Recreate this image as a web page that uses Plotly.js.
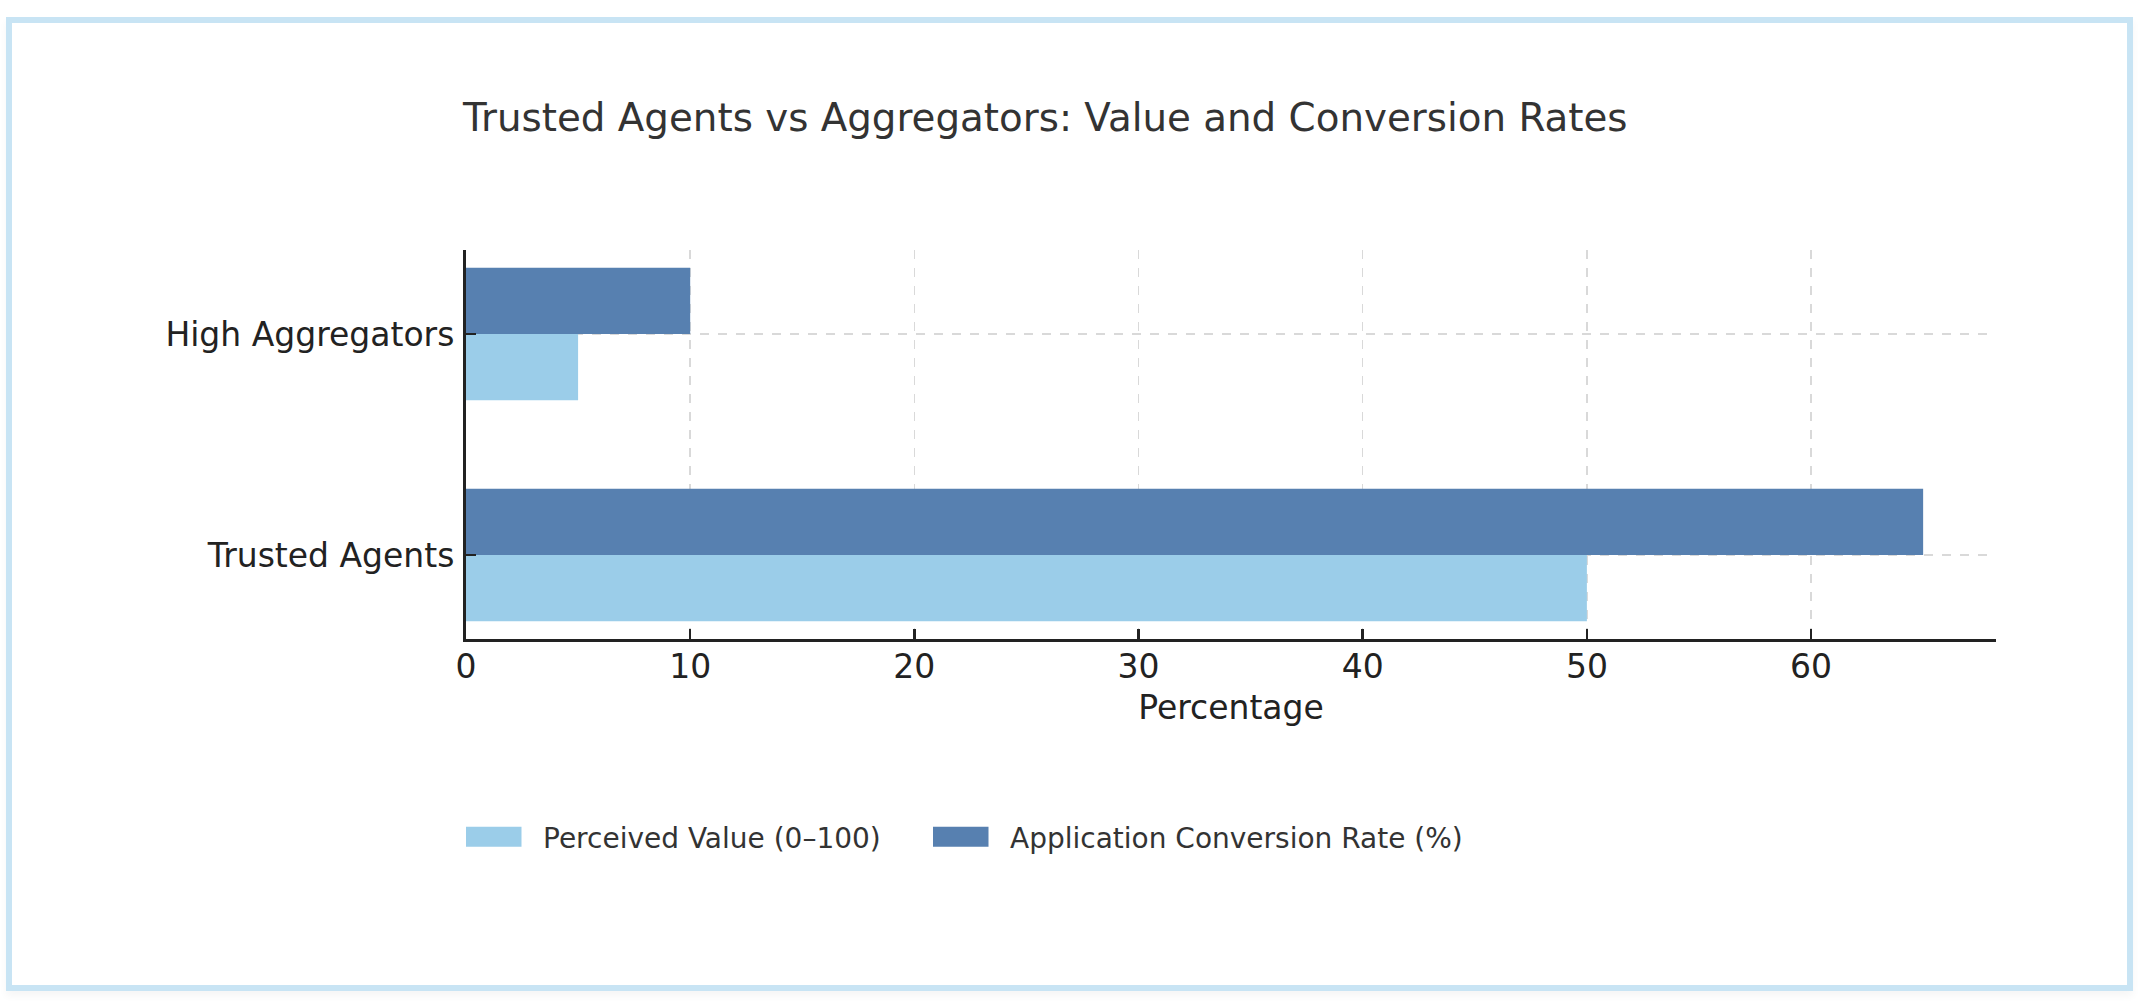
<!DOCTYPE html>
<html>
<head>
<meta charset="utf-8">
<script src="https://cdn.plot.ly/plotly-3.0.1.min.js"></script>
<style>
  html, body { margin: 0; padding: 0; background: #ffffff; }
  #chart { position: absolute; left: 0; top: 0; width: 2152px; height: 1006px; }
  #frame { position: absolute; left: 6px; top: 17px; width: 2127px; height: 974px;
           box-sizing: border-box; border: 6.5px solid #c8e4f4; pointer-events: none;
           box-shadow: 0 5px 8px rgba(0,0,0,0.04); z-index: 10; }
</style>
</head>
<body>
<div id="chart"></div>
<div id="frame"></div>
<script>
const categories = ["Trusted Agents", "High Aggregators"];
const perceivedValue = [50, 5];
const conversionRate = [65, 10];
const seriesNames = ["Perceived Value (0\u2013100)", "Application Conversion Rate (%)"];
const xTicks = [0, 10, 20, 30, 40, 50, 60];

const FONT = "DejaVu Sans, Verdana, sans-serif";

const traces = [
  { type: "bar", orientation: "h", name: seriesNames[0], y: categories, x: perceivedValue,
    marker: { color: "#9bcde9", line: { width: 0 } }, hoverinfo: "x+name", legend: "legend" },
  { type: "bar", orientation: "h", name: seriesNames[1], y: categories, x: conversionRate,
    marker: { color: "#5780b0", line: { width: 0 } }, hoverinfo: "x+name", legend: "legend2" }
];

const plotW = 2152 - 466 - 156;
const legendCommon = {
  orientation: "h", xanchor: "left", y: (639 - 837) / 389, yanchor: "middle",
  font: { size: 28, color: "#333333" }, bgcolor: "rgba(0,0,0,0)",
  itemwidth: 67, itemclick: false, itemdoubleclick: false
};

const layout = {
  width: 2152, height: 1006,
  paper_bgcolor: "#ffffff", plot_bgcolor: "#ffffff",
  font: { family: FONT, color: "#222222", size: 33 },
  margin: { l: 466, r: 156, t: 250, b: 367, pad: 0 },
  barmode: "group", bargap: 0.4, bargroupgap: 0,
  title: { text: "Trusted Agents vs Aggregators: Value and Conversion Rates",
           font: { family: FONT, size: 38.8, color: "#333333" },
           xref: "container", x: 463 / 2152, xanchor: "left",
           yref: "container", y: 1 - 117 / 1006, yanchor: "middle" },
  xaxis: {
    range: [0, 68.25], tickvals: xTicks, ticktext: xTicks.map(String),
    showline: true, linecolor: "#222222", linewidth: 3,
    ticks: "inside", ticklen: 10, tickwidth: 2.5, tickcolor: "#222222",
    showgrid: true, gridcolor: "#d9d9d9", gridwidth: 1.5, griddash: "dash",
    zeroline: false, tickfont: { size: 33, color: "#222222" }, ticklabelstandoff: -4,
    title: { text: "Percentage", font: { size: 33, color: "#222222" }, standoff: 12 }
  },
  yaxis: {
    type: "category", range: [-0.38, 1.38],
    showline: true, linecolor: "#222222", linewidth: 3,
    ticks: "inside", ticklen: 10, tickwidth: 2.5, tickcolor: "#222222",
    showgrid: true, gridcolor: "#d9d9d9", gridwidth: 1.5, griddash: "dash",
    zeroline: false, tickfont: { size: 33, color: "#222222" }, ticklabelstandoff: 2
  },
  showlegend: true,
  legend: Object.assign({}, legendCommon, { x: 0 }),
  legend2: Object.assign({}, legendCommon, { x: (933 - 466) / plotW })
};

function fixLegend() {
  document.querySelectorAll(".legendpoints path").forEach(p => {
    p.setAttribute("d", "M17,10H-39V-10H17Z");
  });
}

Plotly.newPlot("chart", traces, layout, { displayModeBar: false, staticPlot: true }).then(gd => {
  fixLegend();
  gd.on("plotly_afterplot", fixLegend);
});
</script>
</body>
</html>
